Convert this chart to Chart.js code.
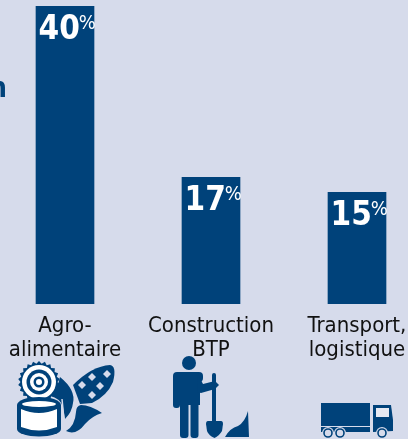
<!DOCTYPE html>
<html>
<head>
<meta charset="utf-8">
<script src="https://cdn.jsdelivr.net/npm/chart.js@4"></script>
<style>
  html, body { margin: 0; padding: 0; background: #d6dbeb; overflow: hidden; }
  #wrap { position: relative; width: 408px; height: 439px; overflow: hidden; }
  /* the three category slots are 146px wide, a little more than the window */
  #sectors { position: absolute; left: -8px; top: 0; }
</style>
</head>
<body>
<div id="wrap"><canvas id="sectors" width="438" height="439"></canvas></div>
<script>
const categories = [["Agro-", "alimentaire"], ["Construction", "BTP"], ["Transport,", "logistique"]];
const shares = [40, 17, 15];
const blue = "#00427a";
const bgColor = "#d6dbeb";
const condensed = "'DejaVu Sans Condensed', 'DejaVu Sans'";
const shiftX = 8; // canvas starts 8px left of the window

// percent labels at the top of the bars, number + small raised sign
const valueLabels = {
  id: "valueLabels",
  afterDatasetsDraw(chart) {
    const ctx = chart.ctx;
    chart.getDatasetMeta(0).data.forEach((bar, i) => {
      const txt = String(shares[i]);
      const left = bar.x - 26.5;
      ctx.save();
      ctx.fillStyle = "#fff";
      ctx.textAlign = "left";
      ctx.textBaseline = "alphabetic";
      ctx.font = "bold 33px " + condensed;
      const w = ctx.measureText(txt).width;
      ctx.fillText(txt, left, bar.y + 33);
      ctx.font = "20px " + condensed;
      ctx.fillText("%", left + w - 1, bar.y + 23);
      ctx.restore();
    });
  },
};

function diamond(ctx, x, y, r) {
  ctx.beginPath();
  ctx.moveTo(x, y - r);
  ctx.lineTo(x + r, y);
  ctx.lineTo(x, y + r);
  ctx.lineTo(x - r, y);
  ctx.fill();
}

function drawFood(ctx) {
  ctx.fillStyle = blue;
  // gear
  ctx.beginPath();
  for (let a = 0; a < 44; a++) {
    const r = a % 2 ? 21 : 18.5;
    const t = a / 44 * Math.PI * 2;
    ctx.lineTo(39 + r * Math.cos(t), 382 + r * Math.sin(t));
  }
  ctx.closePath();
  ctx.fill();
  [[17, "#fff"], [12.5, blue], [9, "#fff"], [5.5, blue], [3, "#fff"]].forEach(([r, c]) => {
    ctx.fillStyle = c;
    ctx.beginPath();
    ctx.arc(39, 382, r, 0, Math.PI * 2);
    ctx.fill();
  });
  // leaf behind
  ctx.fillStyle = blue;
  ctx.beginPath();
  ctx.moveTo(60, 377);
  ctx.quadraticCurveTo(76, 390, 73, 403);
  ctx.quadraticCurveTo(72, 412, 65, 419);
  ctx.lineTo(63, 407);
  ctx.quadraticCurveTo(60, 398, 50, 396);
  ctx.quadraticCurveTo(58, 388, 60, 377);
  ctx.fill();
  // corn cob
  ctx.beginPath();
  ctx.moveTo(73, 385);
  ctx.quadraticCurveTo(92, 366, 110, 365);
  ctx.quadraticCurveTo(117, 366, 113, 382);
  ctx.quadraticCurveTo(107, 396, 92, 403);
  ctx.lineTo(80, 404);
  ctx.closePath();
  ctx.fill();
  ctx.fillStyle = bgColor;
  [[92, 377], [100, 386], [82, 385], [92, 395], [107, 374]].forEach(([x, y]) => diamond(ctx, x, y, 4));
  // corn leaf
  ctx.fillStyle = blue;
  ctx.beginPath();
  ctx.moveTo(102, 413);
  ctx.quadraticCurveTo(90, 405, 81, 405);
  ctx.quadraticCurveTo(76, 406, 76, 412);
  ctx.quadraticCurveTo(75, 426, 66, 431);
  ctx.quadraticCurveTo(76, 436, 85, 424);
  ctx.quadraticCurveTo(92, 416, 102, 413);
  ctx.fill();
  // gap between the leaf and the tin
  ctx.strokeStyle = bgColor;
  ctx.lineWidth = 1.5;
  ctx.beginPath();
  ctx.moveTo(62, 399);
  ctx.lineTo(64, 420);
  ctx.stroke();
  // tin
  ctx.fillStyle = blue;
  ctx.beginPath();
  ctx.ellipse(39, 405, 22, 8, 0, 0, Math.PI * 2);
  ctx.fill();
  ctx.fillRect(17, 405, 44, 24);
  ctx.beginPath();
  ctx.ellipse(39, 429, 22, 7.5, 0, 0, Math.PI * 2);
  ctx.fill();
  ctx.fillStyle = "#fff";
  ctx.beginPath();
  ctx.ellipse(39, 404, 17, 3, 0, 0, Math.PI * 2);
  ctx.fill();
  ctx.beginPath();
  ctx.moveTo(21, 409);
  ctx.quadraticCurveTo(39, 417, 57, 409);
  ctx.lineTo(57, 427);
  ctx.quadraticCurveTo(39, 434, 21, 427);
  ctx.fill();
}

function drawWorker(ctx) {
  ctx.fillStyle = blue;
  // head
  ctx.beginPath();
  ctx.arc(189, 363, 7, 0, Math.PI * 2);
  ctx.fill();
  // shoulders, torso, legs
  ctx.beginPath();
  ctx.roundRect(173, 372, 30, 10, 4);
  ctx.fill();
  ctx.fillRect(180, 375, 20, 30);
  ctx.beginPath();
  ctx.roundRect(173, 375, 7, 33, 3);
  ctx.roundRect(180, 400, 8.5, 38, 3);
  ctx.roundRect(190.5, 400, 8, 38, 3);
  ctx.fill();
  // arm to handle
  ctx.beginPath();
  ctx.moveTo(198, 374);
  ctx.lineTo(203, 384);
  ctx.lineTo(215, 381);
  ctx.lineTo(219, 385);
  ctx.lineTo(215, 389);
  ctx.lineTo(201, 393);
  ctx.lineTo(197, 392);
  ctx.fill();
  // spade
  ctx.beginPath();
  ctx.roundRect(212, 373, 4, 50, 2);
  ctx.fill();
  ctx.beginPath();
  ctx.moveTo(208, 421);
  ctx.lineTo(221, 421);
  ctx.quadraticCurveTo(223, 421, 223, 424);
  ctx.lineTo(222, 431);
  ctx.quadraticCurveTo(219, 436, 214.5, 438);
  ctx.quadraticCurveTo(209, 436, 207, 431);
  ctx.lineTo(206, 424);
  ctx.quadraticCurveTo(206, 421, 208, 421);
  ctx.fill();
  // heap
  ctx.beginPath();
  ctx.moveTo(225, 437);
  ctx.quadraticCurveTo(230, 428, 238, 426);
  ctx.quadraticCurveTo(245, 422, 248, 411);
  ctx.lineTo(249, 437);
  ctx.fill();
}

function drawTruck(ctx) {
  ctx.fillStyle = blue;
  ctx.fillRect(321, 403, 49, 23);
  ctx.fillRect(321, 427, 49, 5);
  // cab
  ctx.beginPath();
  ctx.moveTo(373, 405);
  ctx.lineTo(391, 405);
  ctx.lineTo(393, 420);
  ctx.lineTo(393, 431);
  ctx.lineTo(373, 432);
  ctx.fill();
  ctx.fillStyle = "#e6e9f2";
  ctx.fillRect(376, 408, 13, 9);
  // wheels
  [[328, 433], [340, 433], [382, 433]].forEach(([x, y]) => {
    ctx.fillStyle = bgColor;
    ctx.beginPath();
    ctx.arc(x, y, 6, 0, Math.PI * 2);
    ctx.fill();
    ctx.strokeStyle = blue;
    ctx.lineWidth = 1.6;
    ctx.beginPath();
    ctx.arc(x, y, 4, 0, Math.PI * 2);
    ctx.stroke();
  });
}

// icons and the cut off word on the left edge, in window coordinates
const extras = {
  id: "extras",
  afterDraw(chart) {
    const ctx = chart.ctx;
    ctx.save();
    ctx.translate(shiftX, 0);
    ctx.fillStyle = blue;
    ctx.font = "bold 28px " + condensed;
    ctx.textAlign = "left";
    ctx.fillText("n", -11, 97);
    drawFood(ctx);
    drawWorker(ctx);
    drawTruck(ctx);
    ctx.restore();
  },
};

const sectorsChart = new Chart(document.getElementById("sectors"), {
  type: "bar",
  data: {
    labels: categories,
    datasets: [
      {
        data: shares,
        backgroundColor: blue,
        borderWidth: 0,
        barThickness: 58,
      },
    ],
  },
  options: {
    responsive: false,
    animation: false,
    layout: { padding: { top: 6, bottom: 67 } },
    plugins: {
      legend: { display: false },
      tooltip: { enabled: false },
    },
    scales: {
      x: {
        grid: { display: false, drawTicks: false },
        border: { display: false },
        ticks: {
          autoSkip: false,
          maxRotation: 0,
          minRotation: 0,
          padding: 10,
          color: "#111",
          font: { family: condensed, size: 22, lineHeight: 1.09 },
        },
      },
      y: {
        display: false,
        min: 0,
        max: 40,
      },
    },
  },
  plugins: [valueLabels, extras],
});
</script>
</body>
</html>
